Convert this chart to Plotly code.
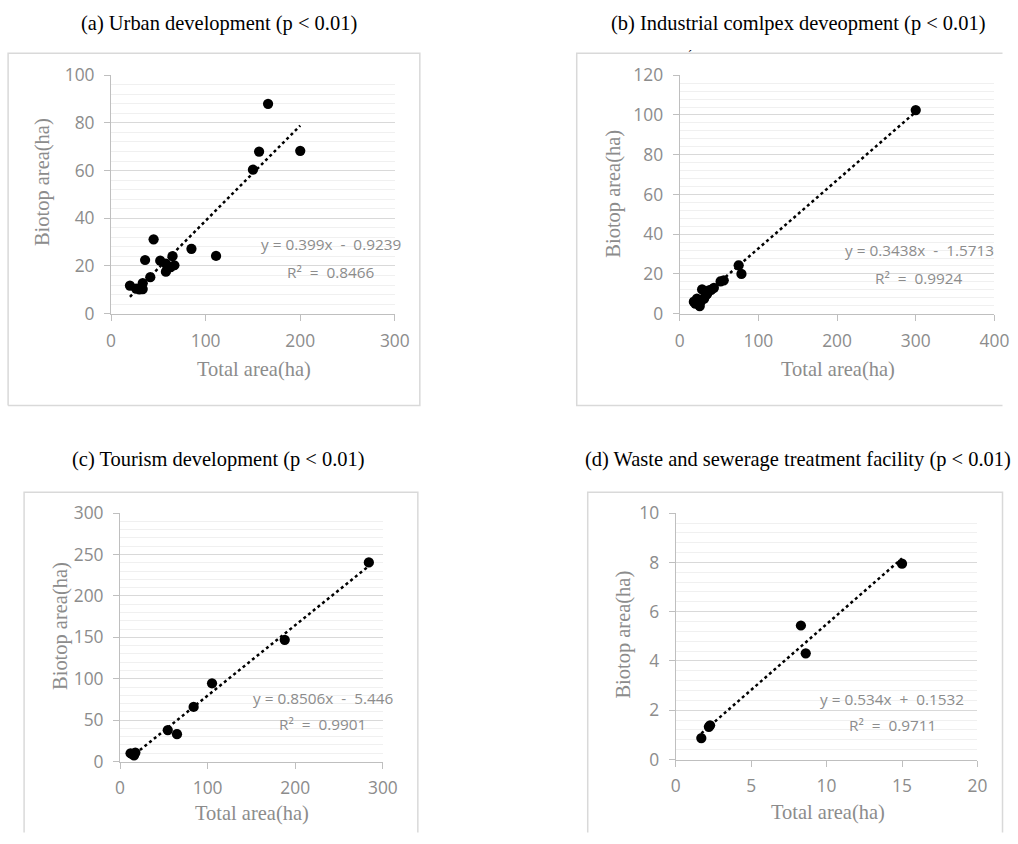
import plotly.graph_objects as go

W, H = 1018, 844

# ---------------- data ----------------
titles = ["(a) Urban development (p < 0.01)",
          "(b) Industrial comlpex deveopment (p < 0.01)",
          "(c) Tourism development (p < 0.01)",
          "(d) Waste and sewerage treatment facility (p < 0.01)"]

a_x = [166, 156.5, 200, 150, 111, 85, 45, 36, 52, 65, 58, 67, 63, 58, 41.5, 20, 26.5, 33.5, 33.5, 30]
a_y = [88, 68, 68.3, 60.4, 24.2, 27.2, 31.2, 22.5, 22.2, 24.1, 21, 20.3, 19.5, 17.6, 15.3, 11.8, 10.5, 12.8, 10.3, 10.2]

b_x = [300, 75, 78.5, 56, 52, 43.5, 37, 28.5, 33, 31, 18, 22, 25.5, 26.5, 20, 35, 40]
b_y = [102.5, 24.3, 20, 16.8, 16.2, 13, 11.7, 12.2, 9.2, 7.5, 6, 7.5, 3.8, 5.9, 5, 10, 12]

c_x = [284, 188, 105, 84, 54.5, 65, 12, 16, 17.5, 14]
c_y = [240.5, 147, 94.5, 66, 38, 33, 10, 7.5, 10.8, 8.8]

d_x = [15, 8.3, 8.62, 2.28, 2.2, 1.7]
d_y = [7.95, 5.44, 4.31, 1.39, 1.33, 0.87]

slopes = [0.399, 0.3438, 0.8506, 0.534]
intercepts = [-0.9239, -1.5713, -5.446, 0.1532]
equations = ["y = 0.399x  -  0.9239", "y = 0.3438x  -  1.5713",
             "y = 0.8506x  -  5.446", "y = 0.534x  +  0.1532"]
r2_labels = ["R²  =  0.8466", "R²  =  0.9924", "R²  =  0.9901", "R²  =  0.9711"]

x_ranges = [[0, 300], [0, 400], [0, 300], [0, 20]]
y_ranges = [[0, 100], [0, 120], [0, 300], [0, 10]]
x_dticks = [100, 100, 100, 5]
y_dticks = [20, 20, 50, 2]
y_minor = [4, 4, 10, 0.4]

xs = [a_x, b_x, c_x, d_x]
ys = [a_y, b_y, c_y, d_y]

# ---------------- layout geometry (target pixels in the picture) ----------------
plot_px = [  # x0, x1, ytop, ybottom
    (110, 394, 73, 312),
    (679, 994, 73, 312),
    (119, 382, 512, 761),
    (675, 977, 512, 759),
]
frame_paths = [
    [(7, 404), (7, 51), (419, 51), (419, 404), (7, 404)],
    [(1030, 51), (576, 51), (576, 404), (1030, 404)],
    [(23, 860), (23, 491), (417, 491), (417, 860)],
    [(587, 860), (587, 491), (1007, 491), (1007, 860)],
]
title_pos = [(218, 21), (797, 21), (218, 458), (797, 458)]
ytitle_pos = [(42, 180), (613, 192), (60, 625), (623, 634)]
xtitle_pos = [(253, 368), (837, 368), (251, 813), (827, 812)]
eq_pos = [(330, 242), (919, 248), (322, 697), (891, 698)]
r2_pos = [(330, 270), (919, 276), (322, 723), (892, 724)]

# calibration of the photographed page (measured with test marks)
SX, OX, SY, OY = 0.981, 3.9, 0.974, 10.6
K = (SX + SY) / 2

def fx(px):
    p = (px - OX) / SX
    return min(max(p, 0), W - 0.5) / W

def fy(py):
    p = (py - OY) / SY
    return 1 - min(max(p, 0.5), H - 0.5) / H

def fs(size):
    return size / K

fig = go.Figure()
layout = dict(width=W, height=H, margin=dict(l=0, r=0, t=0, b=0),
              paper_bgcolor="white", plot_bgcolor="white", showlegend=False)

shapes = []
annotations = []
tick_font = dict(family="Open Sans", size=fs(17), color="#8c8c8c")
serif = "Liberation Serif"

for i in range(4):
    sfx = "" if i == 0 else str(i + 1)
    xa, ya = "x" + sfx, "y" + sfx
    x0, x1, yt, yb = plot_px[i]
    layout["xaxis" + sfx] = dict(
        domain=[fx(x0), fx(x1)], anchor=ya, range=x_ranges[i], dtick=x_dticks[i], tick0=0,
        showline=True, linecolor="#bfbfbf", linewidth=1, ticks="outside", ticklen=6,
        tickcolor="#bfbfbf", tickfont=tick_font, showgrid=False, zeroline=False,
        ticklabelstandoff=5, fixedrange=True)
    layout["yaxis" + sfx] = dict(
        domain=[fy(yb), fy(yt)], anchor=xa, range=y_ranges[i], dtick=y_dticks[i], tick0=0,
        showline=True, linecolor="#bfbfbf", linewidth=1, ticks="outside", ticklen=6,
        tickcolor="#bfbfbf", tickfont=tick_font, showgrid=True, gridcolor="#d9d9d9",
        gridwidth=1, zeroline=False, ticklabelstandoff=6,
        minor=dict(showgrid=True, gridcolor="#f0f0f0", gridwidth=1, dtick=y_minor[i], tick0=0),
        fixedrange=True)

    xmin, xmax = min(xs[i]), max(xs[i])
    fig.add_trace(go.Scatter(
        x=[xmin, xmax], y=[slopes[i] * xmin + intercepts[i], slopes[i] * xmax + intercepts[i]],
        mode="lines", line=dict(color="black", width=2.5, dash="dot"),
        xaxis=xa, yaxis=ya, hoverinfo="skip"))
    fig.add_trace(go.Scatter(
        x=xs[i], y=ys[i], mode="markers",
        marker=dict(color="black", size=fs(10), line=dict(width=0)),
        xaxis=xa, yaxis=ya, cliponaxis=False))

    pts = frame_paths[i]
    path = "M " + " L ".join(f"{fx(px):.5f},{fy(py):.5f}" for px, py in pts)
    shapes.append(dict(type="path", xref="paper", yref="paper", path=path,
                       line=dict(color="#d9d9d9", width=1.5), layer="below"))

    tx, ty = title_pos[i]
    annotations.append(dict(text=titles[i], x=fx(tx), y=fy(ty), xref="paper", yref="paper",
                            showarrow=False, xanchor="center", yanchor="middle",
                            font=dict(family=serif, size=fs(20), color="black")))
    px_, py_ = ytitle_pos[i]
    annotations.append(dict(text="Biotop area(ha)", x=fx(px_), y=fy(py_), xref="paper", yref="paper",
                            showarrow=False, xanchor="center", yanchor="middle", textangle=-90,
                            font=dict(family=serif, size=fs(20), color="#8c8c8c")))
    px_, py_ = xtitle_pos[i]
    annotations.append(dict(text="Total area(ha)", x=fx(px_), y=fy(py_), xref="paper", yref="paper",
                            showarrow=False, xanchor="center", yanchor="middle",
                            font=dict(family=serif, size=fs(20), color="#8c8c8c")))
    px_, py_ = eq_pos[i]
    annotations.append(dict(text=equations[i], x=fx(px_), y=fy(py_), xref="paper", yref="paper",
                            showarrow=False, xanchor="center", yanchor="middle",
                            font=dict(family="Open Sans", size=fs(15), color="#8c8c8c")))
    px_, py_ = r2_pos[i]
    annotations.append(dict(text=r2_labels[i], x=fx(px_), y=fy(py_), xref="paper", yref="paper",
                            showarrow=False, xanchor="center", yanchor="middle",
                            font=dict(family="Open Sans", size=fs(15), color="#8c8c8c")))

annotations.append(dict(text="ˊ", x=fx(693), y=fy(44), xref="paper", yref="paper",
                        showarrow=False, font=dict(family=serif, size=12, color="black")))

layout["shapes"] = shapes
layout["annotations"] = annotations
fig.update_layout(**layout)

post = """
(function(){
  var de = document.documentElement, b = document.body;
  [de, b].forEach(function(e){ e.style.margin='0'; e.style.padding='0'; e.style.overflow='hidden'; });
})();
"""
fig.write_html("out.html", config={"displayModeBar": False}, post_script=post)
